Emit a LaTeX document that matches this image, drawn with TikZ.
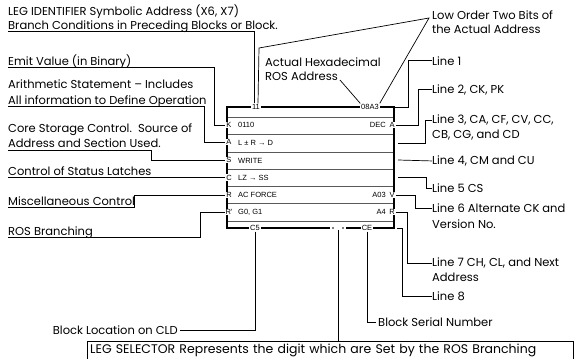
\documentclass[tikz,border=0pt]{standalone}
\usepackage{fontspec}
\setmainfont{Poppins}
\newfontfamily\blockfont{Liberation Sans}
\usetikzlibrary{positioning}

\begin{document}
\begin{tikzpicture}[x=1pt,y=-1pt,
    lbl/.style={anchor=base west,inner sep=0pt,font=\fontsize{11.5}{14}\selectfont},
    tag/.style={inner sep=0.8pt,fill=white,font=\blockfont\fontsize{7.5}{8}\selectfont},
    rowtxt/.style={inner sep=0pt,font=\blockfont\fontsize{7.5}{8}\selectfont},
    lead/.style={line width=0.7pt},
    border/.style={line width=2.2pt},
    sep/.style={line width=0.6pt,black!65}]
  \useasboundingbox (0,0) rectangle (582,359);

  % Block
  \foreach \y in {117,134,152,169,186,203,221} \draw[sep] (227,\y) -- (394,\y);
  \draw[border] (227,107) rectangle (394,228);
  \coordinate (tr) at (395,107);

  % Block top and bottom tags
  \node[tag] (c11) at (256,107) {11};
  \node[tag] (hex) at (370,107) {08A3};
  \node[tag] (c5) at (255,228) {C5};
  \node[tag] (ce) at (367,228) {CE};
  \node[fill=white,inner sep=0pt,minimum width=16,minimum height=4] (gap) at (338,228) {};
  \fill (333,228) circle (0.9) (343,228) circle (0.9);

  % Left letters
  \node[tag] (lK) at (229,125) {K};
  \node[tag] (lA) at (229,142) {A};
  \node[tag] (lS) at (229,160) {S};
  \node[tag] (lC) at (229,177.5) {C};
  \node[tag] (lR) at (229,195) {R};
  \node[tag] (lRb) at (229,212) {R'};

  % Right letters
  \node[tag] (rA) at (392,125) {A};
  \node[tag] (rV) at (392,195) {V};
  \node[tag] (rR) at (392,212) {R};
  \coordinate (e2) at (398,143);
  \coordinate (e3) at (398,160);
  \coordinate (e4) at (398,177);
  \coordinate (e8) at (397,228);

  % Row contents
  \node[rowtxt,anchor=west] (t1) at (238,125) {0110};
  \node[rowtxt,anchor=west] (t2) at (238,143) {L ± R → D};
  \node[rowtxt,anchor=west] (t3) at (238,161) {WRITE};
  \node[rowtxt,anchor=west] (t4) at (238,177.5) {LZ → SS};
  \node[rowtxt,anchor=west] (t5) at (238,195) {AC FORCE};
  \node[rowtxt,anchor=west] (t6) at (238,212) {G0, G1};
  \node[rowtxt,anchor=east] (d1) at (386,125) {DEC};
  \node[rowtxt,anchor=east] (d5) at (386,195) {A03};
  \node[rowtxt,anchor=east] (d6) at (386,212) {A4};

  % Left labels
  \node[lbl] (legid) at (8,15) {LEG IDENTIFIER Symbolic Address (X6, X7)};
  \node[lbl] (branch) at (8,29) {Branch Conditions in Preceding Blocks or Block.};
  \node[lbl] (emit) at (8,65.5) {Emit Value (in Binary)};
  \node[lbl] (arith) at (8,88.5) {Arithmetic Statement -- Includes};
  \node[lbl] (allinfo) at (8,104) {All information to Define Operation};
  \node[lbl] (core) at (8,132.5) {Core Storage Control.\ \ Source of};
  \node[lbl] (addr) at (8,147.5) {Address and Section Used.};
  \node[lbl] (status) at (8,175.5) {Control of Status Latches};
  \node[lbl] (misc) at (8,205) {Miscellaneous Control};
  \node[lbl] (ros) at (8,235) {ROS Branching};

  \draw[lead] ([yshift=-2pt]branch.base west) -| ([xshift=-2pt]c11.north);
  \draw[lead] ([yshift=-2pt]emit.base west) -| ([xshift=-11pt]lK.west) -- (lK.west);
  \draw[lead] ([yshift=-2.5pt]allinfo.base west) -| ([xshift=-21pt]lA.west) -- (lA.west);
  \draw[lead] ([yshift=-2.5pt]addr.base west) -| ([xshift=-74pt]lS.west) -- (lS.west);
  \draw[lead] ([yshift=-2pt]status.base west) -- (lC.west);
  \draw[lead] ([yshift=-2pt]misc.base west) -| ([xshift=-91pt]lR.west) -- (lR.west);
  \draw[lead] ([yshift=-2pt]ros.base west) -| ([xshift=-24pt]lRb.west) -- (lRb.west);

  % Top labels
  \node[lbl] (low) at (432,19) {Low Order Two Bits of};
  \node[lbl] (low2) at (432,33) {the Actual Address};
  \coordinate (lowtip) at (429,18);
  \node[lbl] (act) at (265,66) {Actual Hexadecimal};
  \node[lbl] (act2) at (265,80) {ROS Address};

  \draw[lead] ([xshift=2pt]c11.north) -- (259,48) -- (lowtip) -- (hex.north east);
  \draw[lead] ([xshift=2pt]act2.base east) -- (hex.north west);

  % Right labels
  \node[lbl] (l1) at (432,65) {Line 1};
  \node[lbl] (l2) at (432,93) {Line 2, CK, PK};
  \node[lbl] (l3) at (432,123.5) {Line 3, CA, CF, CV, CC,};
  \node[lbl] (l3b) at (432,138.5) {CB, CG, and CD};
  \node[lbl] (l4) at (432,164.5) {Line 4, CM and CU};
  \node[lbl] (l5) at (432,192.5) {Line 5 CS};
  \node[lbl] (l6) at (432,212.5) {Line 6 Alternate CK and};
  \node[lbl] (l6b) at (432,228.5) {Version No.};
  \node[lbl] (l7) at (432,266.5) {Line 7 CH, CL, and Next};
  \node[lbl] (l7b) at (432,281.5) {Address};
  \node[lbl] (l8) at (432,300.5) {Line 8};

  \draw[lead] (tr) -- ++(13,0) |- (l1.west);
  \draw[lead] (rA.east) -- ++(23,0) |- (l2.west);
  \draw[lead] (e2) -- ++(27,0) |- (l3.west);
  \draw[lead] (e3) -- (l4.west);
  \draw[lead] (e4) -- ++(28,0) |- (l5.west);
  \draw[lead] (rV.east) -- ++(20,0) |- (l6.west);
  \draw[lead] (rR.east) -- ++(12,0) |- (l7.west);
  \draw[lead] (e8) -- ++(5,0) |- (l8.west);

  % Bottom labels
  \node[lbl] (bser) at (378,326.5) {Block Serial Number};
  \node[lbl,anchor=base east] (bloc) at (178,334.5) {Block Location on CLD};
  \node[draw=none,anchor=north west,inner sep=3pt,text width=480pt,align=left,
    font=\fontsize{12.5}{14}\selectfont] (sel) at (87,341)
    {LEG SELECTOR Represents the digit which are Set by the ROS Branching};
  \draw[lead] (sel.south west) -- (sel.north west) -- (sel.north east) -- (sel.south east);

  \draw[lead] (c5.south) |- ([xshift=2pt]bloc.east);
  \draw[lead] (ce.south) |- ([xshift=-2pt]bser.west);
  \draw[lead] (gap.south) -- (gap.south |- sel.north);
\end{tikzpicture}
\end{document}
